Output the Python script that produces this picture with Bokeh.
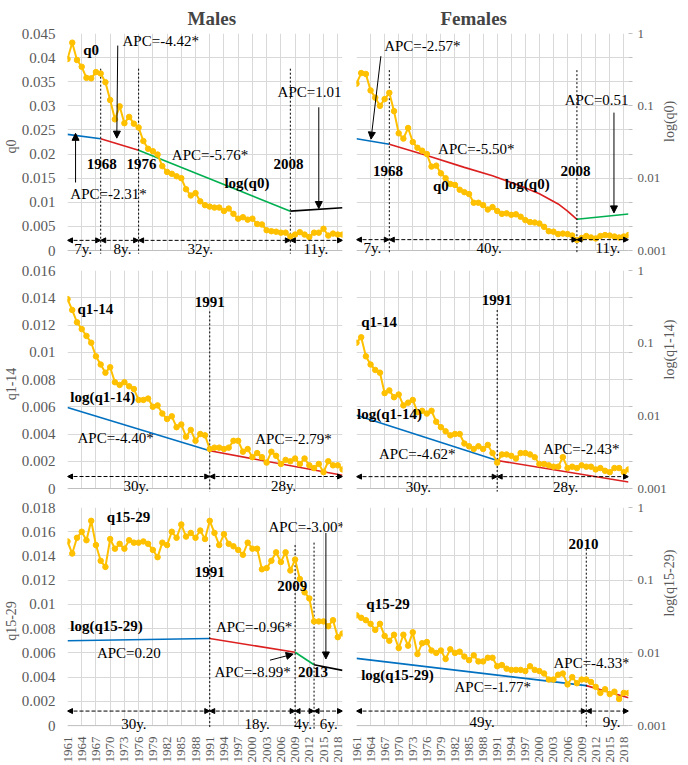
import math
from bokeh.plotting import figure
from bokeh.models import (Range1d, LinearAxis, LogAxis, LogScale, FixedTicker,
                          CustomJSTickFormatter, Label, Arrow, NormalHead)
from bokeh.layouts import column, row
from bokeh.embed import file_html
from bokeh.resources import INLINE

# ---------------- data ----------------
years = list(range(1961, 2020))
year_ticks = list(range(1961, 2020, 3))

q0_ticks = [0, 0.005, 0.01, 0.015, 0.02, 0.025, 0.03, 0.035, 0.04, 0.045]
q114_ticks = [0, 0.002, 0.004, 0.006, 0.008, 0.01, 0.012, 0.014, 0.016]
q1529_ticks = [0, 0.002, 0.004, 0.006, 0.008, 0.01, 0.012, 0.014, 0.016, 0.018]
log_ticks = [0.001, 0.01, 0.1, 1]

m_q0 = [0.0397, 0.0431, 0.0395, 0.0381, 0.0358, 0.0357, 0.0370, 0.0367, 0.0349, 0.0312,
        0.0272, 0.0299, 0.0264, 0.0277, 0.0263, 0.0255, 0.0227, 0.0211, 0.0206, 0.0199,
        0.0175, 0.0163, 0.0159, 0.0154, 0.0150, 0.0127, 0.0114, 0.0119, 0.0102, 0.0094,
        0.0091, 0.0089, 0.0089, 0.0082, 0.0087, 0.0076, 0.0066, 0.0069, 0.0064, 0.0066,
        0.0055, 0.0054, 0.0042, 0.0040, 0.0039, 0.0037, 0.0037, 0.0029, 0.0033, 0.0038,
        0.0033, 0.0028, 0.0037, 0.0037, 0.0045, 0.0031, 0.0035, 0.0033, 0.0033]
f_q0 = [0.0346, 0.0368, 0.0366, 0.0332, 0.0317, 0.0300, 0.0314, 0.0327, 0.0289, 0.0243,
        0.0232, 0.0254, 0.0225, 0.0213, 0.0207, 0.0200, 0.0174, 0.0176, 0.0160, 0.0150,
        0.0138, 0.0136, 0.0126, 0.0121, 0.0117, 0.0099, 0.0099, 0.0094, 0.0085, 0.0090,
        0.0082, 0.0076, 0.0077, 0.0074, 0.0075, 0.0070, 0.0063, 0.0059, 0.0058, 0.0056,
        0.0049, 0.0040, 0.0039, 0.0034, 0.0035, 0.0034, 0.0031, 0.0022, 0.0026, 0.0030,
        0.0027, 0.0025, 0.0030, 0.0032, 0.0031, 0.0029, 0.0027, 0.0029, 0.0032]
m_q114 = [0.0139, 0.0131, 0.0122, 0.0117, 0.0112, 0.0107, 0.0097, 0.0091, 0.0085, 0.0089,
          0.0078, 0.0076, 0.0078, 0.0075, 0.0073, 0.0065, 0.0065, 0.0066, 0.0060, 0.0061,
          0.0055, 0.0051, 0.0053, 0.0045, 0.0047, 0.0038, 0.0043, 0.0035, 0.0040, 0.0039,
          0.0029, 0.0030, 0.0030, 0.0029, 0.0030, 0.0035, 0.0035, 0.0027, 0.0029, 0.0023,
          0.0026, 0.0023, 0.0019, 0.0027, 0.0024, 0.0018, 0.0021, 0.0020, 0.0022, 0.0018,
          0.0022, 0.0017, 0.0015, 0.0018, 0.0012, 0.0020, 0.0017, 0.0017, 0.0014]
f_q114 = [0.0107, 0.0111, 0.0097, 0.0091, 0.0087, 0.0085, 0.0070, 0.0072, 0.0067, 0.0069,
          0.0061, 0.0063, 0.0065, 0.0056, 0.0057, 0.0055, 0.0057, 0.0049, 0.0045, 0.0042,
          0.0039, 0.0040, 0.0040, 0.0033, 0.0031, 0.0029, 0.0031, 0.0029, 0.0032, 0.0026,
          0.0019, 0.0025, 0.0025, 0.0024, 0.0022, 0.0026, 0.0026, 0.0025, 0.0023, 0.0018,
          0.0018, 0.0017, 0.0016, 0.0016, 0.0023, 0.0015, 0.0016, 0.0015, 0.0017, 0.0016,
          0.0016, 0.0014, 0.0015, 0.0013, 0.0012, 0.0015, 0.0015, 0.0012, 0.0014]
m_q1529 = [0.0152, 0.0142, 0.0155, 0.0160, 0.0153, 0.0169, 0.0149, 0.0136, 0.0131, 0.0154,
           0.0146, 0.0150, 0.0146, 0.0153, 0.0151, 0.0151, 0.0152, 0.0150, 0.0145, 0.0139,
           0.0151, 0.0149, 0.0160, 0.0155, 0.0166, 0.0156, 0.0159, 0.0155, 0.0161, 0.0154,
           0.0169, 0.0159, 0.0149, 0.0158, 0.0150, 0.0148, 0.0145, 0.0141, 0.0151, 0.0146,
           0.0146, 0.0129, 0.0130, 0.0136, 0.0143, 0.0135, 0.0143, 0.0128, 0.0137, 0.0121,
           0.0110, 0.0105, 0.0086, 0.0086, 0.0086, 0.0082, 0.0087, 0.0073, 0.0076]
f_q1529 = [0.0091, 0.0089, 0.0087, 0.0084, 0.0079, 0.0084, 0.0074, 0.0070, 0.0075, 0.0064,
           0.0075, 0.0066, 0.0077, 0.0059, 0.0068, 0.0069, 0.0062, 0.0060, 0.0062, 0.0055,
           0.0063, 0.0060, 0.0061, 0.0057, 0.0054, 0.0058, 0.0053, 0.0053, 0.0056, 0.0056,
           0.0049, 0.0050, 0.0047, 0.0046, 0.0046, 0.0046, 0.0045, 0.0049, 0.0046, 0.0045,
           0.0043, 0.0038, 0.0038, 0.0042, 0.0043, 0.0034, 0.0040, 0.0035, 0.0038, 0.0038,
           0.0036, 0.0032, 0.0027, 0.0030, 0.0026, 0.0028, 0.0022, 0.0027, 0.0027]

# joinpoint fitted values (log scale): years, values, colour per segment
m_q0_fit = [([1961, 1968], [0.0403, 0.0351], "blue"),
            ([1968, 1976], [0.0351, 0.0243], "red"),
            ([1976, 2008], [0.0243, 0.0035], "green"),
            ([2008, 2019], [0.0035, 0.0039], "black")]
f_q0_fit = [([1961, 1968], [0.0351, 0.0294], "blue"),
            ([1968, 1976, 1984, 1990, 1996, 2000, 2004, 2006, 2008],
             [0.0294, 0.0206, 0.0141, 0.0108, 0.0078, 0.0061, 0.0044, 0.0035, 0.0027], "red"),
            ([2008, 2019], [0.0027, 0.0032], "green")]
m_q114_fit = [([1961, 1991], [0.0130, 0.0033], "blue"),
              ([1991, 2019], [0.0033, 0.00152], "red")]
f_q114_fit = [([1961, 1991], [0.0102, 0.00243], "blue"),
              ([1991, 2019], [0.00243, 0.00123], "red")]
m_q1529_fit = [([1961, 1991], [0.0147, 0.0158], "blue"),
               ([1991, 2009], [0.0158, 0.0102], "red"),
               ([2009, 2013], [0.0102, 0.00687], "green"),
               ([2013, 2019], [0.00687, 0.00575], "black")]
f_q1529_fit = [([1961, 2010], [0.0084, 0.00355], "blue"),
               ([2010, 2019], [0.00355, 0.00241], "red")]

# ---------------- styling ----------------
COL = {"blue": "#0070C0", "red": "#DC1F1F", "green": "#00B050", "black": "#000000"}
YEL = "#FFC000"
GRID = "#D9D9D9"
AXC = "#595959"
FONT = "Liberation Serif"
EXT = 9  # px of white strip below the zero line, so texts may hang below it

fmt = CustomJSTickFormatter(code="return String(parseFloat(tick.toPrecision(10)));")
blank = CustomJSTickFormatter(code="return '';")


def build(values, fit, ymax, lin_ticks, ylabel, male, bottom, width, height,
          bl, br, bt, bb, zero_h, notes, title=None, title_off=0):
    ext = ymax * EXT / zero_h
    log_lo = 10 ** (-3 - 3.0 * EXT / zero_h)
    p = figure(width=width, height=height, x_range=Range1d(1961, 2019),
               y_range=Range1d(-ext, ymax), output_backend="svg", toolbar_location=None,
               x_axis_location=None, y_axis_location=None,
               min_border_left=bl, min_border_right=br, min_border_top=bt,
               min_border_bottom=bb)
    p.extra_y_ranges = {"log": Range1d(log_lo, 1)}
    p.extra_y_scales = {"log": LogScale()}
    p.outline_line_color = None
    p.xgrid.ticker = FixedTicker(ticks=year_ticks + [2019])
    p.ygrid.ticker = FixedTicker(ticks=lin_ticks)
    p.xgrid.grid_line_color = GRID
    p.ygrid.grid_line_color = GRID

    if male:
        ax = LinearAxis(ticker=FixedTicker(ticks=lin_ticks), formatter=fmt, axis_label=ylabel)
        ax.major_label_text_font_size = "15px"
        ax.major_label_standoff = 12
        ax.major_tick_out = 0
        ax.major_tick_in = 0
        ax.axis_line_color = None
        ax.axis_label_standoff = 0
        ax.minor_tick_line_color = None
        ax.major_label_text_font = FONT
        ax.major_label_text_color = AXC
        ax.axis_label_text_font = FONT
        ax.axis_label_text_font_style = "normal"
        ax.axis_label_text_font_size = "14px"
        ax.axis_label_text_color = AXC
        p.add_layout(ax, "left")
    else:
        # tick marks at the linear grid positions
        tk = LinearAxis(ticker=FixedTicker(ticks=lin_ticks), formatter=blank)
        tk.axis_line_color = None
        tk.major_tick_line_color = "#BFBFBF"
        tk.major_tick_out = 4
        tk.major_tick_in = 0
        tk.minor_tick_line_color = None
        tk.major_label_standoff = 0
        tk.major_label_text_font_size = "1px"
        p.add_layout(tk, "right")
        # log labels
        ax = LogAxis(y_range_name="log", ticker=FixedTicker(ticks=log_ticks), formatter=fmt)
        ax.major_label_text_font_size = "13px"
        ax.major_label_standoff = 5
        ax.major_tick_out = 0
        ax.major_tick_in = 0
        ax.major_tick_line_color = None
        ax.minor_tick_line_color = None
        ax.axis_line_color = None
        ax.major_label_text_font = FONT
        ax.major_label_text_color = AXC
        p.add_layout(ax, "right")
        # axis title reading bottom-to-top, as a single rotated tick label
        ta = LogAxis(y_range_name="log", ticker=FixedTicker(ticks=[10 ** -1.5]),
                     formatter=CustomJSTickFormatter(args=dict(t="log(" + ylabel + ")"),
                                                     code="return t;"))
        ta.major_label_orientation = math.pi / 2
        ta.major_label_standoff = 0
        ta.major_tick_out = 0
        ta.major_tick_in = 0
        ta.major_tick_line_color = None
        ta.minor_tick_line_color = None
        ta.axis_line_color = None
        ta.major_label_text_font = FONT
        ta.major_label_text_font_size = "14px"
        ta.major_label_text_color = AXC
        p.add_layout(ta, "right")

    if bottom:
        xa = LinearAxis(ticker=FixedTicker(ticks=year_ticks), formatter=fmt)
        xa.major_label_orientation = math.pi / 2
        xa.major_label_text_font = FONT
        xa.major_label_text_font_size = "13px"
        xa.major_label_text_color = AXC
        xa.major_label_standoff = 2
        xa.major_tick_out = 0
        xa.major_tick_in = 0
        xa.minor_tick_line_color = None
        xa.axis_line_color = None
        p.add_layout(xa, "below")

    if title:
        p.title.text = title
        p.title.text_font = FONT
        p.title.text_font_size = "19px"
        p.title.text_font_style = "bold"
        p.title.align = "left"
        p.title.offset = title_off
        p.title.standoff = 10

    # white strip below the zero line and the zero line itself
    p.quad(left=[1961], right=[2019], bottom=[-ext], top=[0], fill_color="white",
           line_color=None)
    p.segment(x0=[1961], y0=[0], x1=[2019], y1=[0], line_color="#BFBFBF", line_width=1)

    # joinpoint fitted lines on log axis
    for xs, ys, c in fit:
        p.line(xs, ys, y_range_name="log", line_color=COL[c], line_width=1.6)

    # dotted joinpoint verticals
    for yr, ytop in notes["vlines"]:
        p.segment(x0=[yr], y0=[ytop], x1=[yr], y1=[-ext * 0.35], line_color="black",
                  line_dash="2 2", line_width=1)

    # dashed duration arrows
    ya = notes["dur_y"]
    b = notes["dur_x"]
    for a0, a1 in zip(b[:-1], b[1:]):
        p.add_layout(Arrow(x_start=a0, y_start=ya, x_end=a1, y_end=ya,
                           line_dash="4 2", line_width=1, line_color="black",
                           start=NormalHead(size=5, fill_color="black", line_color="black"),
                           end=NormalHead(size=5, fill_color="black", line_color="black")))
    for x, t in notes["dur_labels"]:
        p.add_layout(Label(x=x, y=notes["dur_ty"], text=t, text_font=FONT,
                           text_font_size="15px", text_align="center",
                           text_baseline="middle", text_color="black"))

    # APC arrows
    for x0, y0, x1, y1 in notes["arrows"]:
        p.add_layout(Arrow(x_start=x0, y_start=y0, x_end=x1, y_end=y1, line_width=1,
                           line_color="black",
                           end=NormalHead(size=7, fill_color="black", line_color="black")))

    # yellow observed series
    p.line(years, values, line_color=YEL, line_width=2)
    p.scatter(years, values, size=5.5, fill_color=YEL, line_color=YEL)

    # text labels
    for x, y, t, bold, align in notes["texts"]:
        p.add_layout(Label(x=x, y=y, text=t, text_font=FONT, text_font_size="15px",
                           text_font_style="bold" if bold else "normal",
                           text_align=align, text_baseline="middle", text_color="black"))
    return p


N_M1 = dict(
    texts=[(1964.3, 0.0415, "q0", True, "left"),
           (1972.6, 0.0435, "APC=-4.42*", False, "left"),
           (1968.2, 0.0180, "1968", True, "center"),
           (1976.6, 0.0180, "1976", True, "center"),
           (2007.6, 0.0180, "2008", True, "center"),
           (1983.0, 0.0199, "APC=-5.76*", False, "left"),
           (1994.1, 0.0139, "log(q0)", True, "left"),
           (2005.3, 0.0328, "APC=1.01", False, "left"),
           (1961.6, 0.0118, "APC=-2.31*", False, "left")],
    arrows=[(1971.6, 0.0425, 1971.4, 0.0233), (2014.0, 0.0297, 2014.0, 0.0087),
            (1962.7, 0.0141, 1962.7, 0.0243)],
    vlines=[(1968, 0.0377), (1976, 0.0377), (2008, 0.0377)],
    dur_y=0.0021, dur_x=[1961, 1968, 1976, 2008, 2019], dur_ty=0.0004,
    dur_labels=[(1964.3, "7y."), (1972.6, "8y."), (1989.0, "32y."), (2013.4, "11y.")])

N_F1 = dict(
    texts=[(1966.9, 0.0425, "APC=-2.57*", False, "left"),
           (1967.7, 0.0164, "1968", True, "center"),
           (1978.4, 0.0211, "APC=-5.50*", False, "left"),
           (1992.6, 0.0137, "log(q0)", True, "left"),
           (1977.3, 0.0133, "q0", True, "left"),
           (2007.7, 0.0164, "2008", True, "center"),
           (2005.4, 0.0313, "APC=0.51", False, "left")],
    arrows=[(1966.2, 0.0403, 1964.1, 0.0231), (2015.9, 0.0286, 2015.9, 0.0078)],
    vlines=[(1968, 0.0374), (2008, 0.0374)],
    dur_y=0.00225, dur_x=[1961, 1968, 2008, 2019], dur_ty=0.0006,
    dur_labels=[(1964.4, "7y."), (1989.3, "40y."), (2014.6, "11y.")])

N_M2 = dict(
    texts=[(1963.1, 0.0132, "q1-14", True, "left"),
           (1991.0, 0.0137, "1991", True, "center"),
           (1961.6, 0.0067, "log(q1-14)", True, "left"),
           (1963.1, 0.0037, "APC=-4.40*", False, "left"),
           (2000.6, 0.0036, "APC=-2.79*", False, "left")],
    arrows=[],
    vlines=[(1991, 0.0130)],
    dur_y=0.00088, dur_x=[1961, 1991, 2019], dur_ty=0.0002,
    dur_labels=[(1975.5, "30y."), (2006.6, "28y.")])

N_F2 = dict(
    texts=[(1962.0, 0.0122, "q1-14", True, "left"),
           (1990.9, 0.0138, "1991", True, "center"),
           (1961.1, 0.0055, "log(q1-14)", True, "left"),
           (1965.8, 0.0025, "APC=-4.62*", False, "left"),
           (2000.8, 0.0029, "APC=-2.43*", False, "left")],
    arrows=[],
    vlines=[(1991, 0.0131)],
    dur_y=0.00087, dur_x=[1961, 1991, 2019], dur_ty=0.0001,
    dur_labels=[(1974.2, "30y."), (2005.6, "28y.")])

N_M3 = dict(
    texts=[(1969.3, 0.0172, "q15-29", True, "left"),
           (1991.0, 0.0127, "1991", True, "center"),
           (2008.4, 0.0115, "2009", True, "center"),
           (2012.8, 0.0044, "2013", True, "center"),
           (2003.4, 0.0164, "APC=-3.00*", False, "left"),
           (1961.6, 0.0082, "log(q15-29)", True, "left"),
           (1967.2, 0.0060, "APC=0.20", False, "left"),
           (1992.3, 0.0081, "APC=-0.96*", False, "left"),
           (1992.0, 0.0044, "APC=-8.99*", False, "left")],
    arrows=[(2015.5, 0.0159, 2015.5, 0.0055), (2003.7, 0.0054, 2008.6, 0.0059)],
    vlines=[(1991, 0.0149), (2009, 0.0149), (2013, 0.0151)],
    dur_y=0.0012, dur_x=[1961, 1991, 2009, 2013, 2019], dur_ty=0.0001,
    dur_labels=[(1975.0, "30y."), (2001.0, "18y."), (2010.7, "4y."), (2016.1, "6y.")])

N_F3 = dict(
    texts=[(2009.4, 0.0150, "2010", True, "center"),
           (1963.1, 0.0100, "q15-29", True, "left"),
           (1962.0, 0.0042, "log(q15-29)", True, "left"),
           (1981.9, 0.0032, "APC=-1.77*", False, "left"),
           (2003.0, 0.0052, "APC=-4.33*", False, "left")],
    arrows=[],
    vlines=[(2010, 0.0146)],
    dur_y=0.0012, dur_x=[1961, 2010, 2019], dur_ty=0.0003,
    dur_labels=[(1987.8, "49y."), (2015.4, "9y.")])

MW, FW = 348, 339
# row heights: frame = zero-line height + EXT strip
p11 = build(m_q0, m_q0_fit, 0.045, q0_ticks, "q0", True, False, MW, 261, 62, 6, 33, 2, 217,
            N_M1, title="Males", title_off=120)
p12 = build(f_q0, f_q0_fit, 0.045, q0_ticks, "q0", False, False, FW, 261, 8, 54, 33, 2, 217,
            N_F1, title="Females", title_off=84)
p21 = build(m_q114, m_q114_fit, 0.016, q114_ticks, "q1-14", True, False, MW, 238, 62, 6, 9, 2, 218, N_M2)
p22 = build(f_q114, f_q114_fit, 0.016, q114_ticks, "q1-14", False, False, FW, 238, 8, 54, 9, 2, 218, N_F2)
p31 = build(m_q1529, m_q1529_fit, 0.018, q1529_ticks, "q15-29", True, True, MW, 266, 62, 6, 8, 29, 221, N_M3)
p32 = build(f_q1529, f_q1529_fit, 0.018, q1529_ticks, "q15-29", False, True, FW, 266, 8, 54, 8, 29, 221, N_F3)

layout = column(row(p11, p12), row(p21, p22), row(p31, p32))
open("out.html", "w").write(file_html(layout, INLINE))
